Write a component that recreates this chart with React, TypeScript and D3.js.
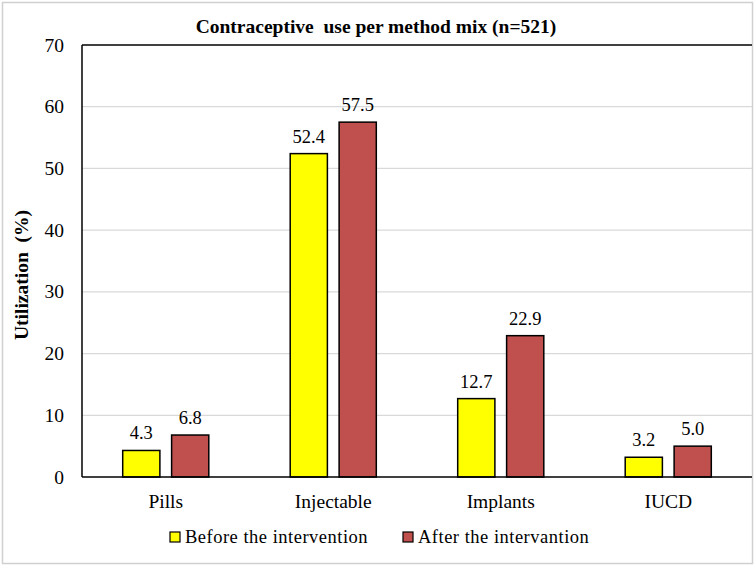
import React from "react";
import * as d3 from "d3";

const categories = ["Pills", "Injectable", "Implants", "IUCD"];
const seriesNames = ["Before the intervention", "After the intervantion"];
const beforeValues = [4.3, 52.4, 12.7, 3.2];
const afterValues = [6.8, 57.5, 22.9, 5.0];
const yTicks = [0, 10, 20, 30, 40, 50, 60, 70];
const colors = ["#FFFF00", "#C0504D"];

const W = 756;
const H = 567;
const FONT = "Liberation Serif, Times New Roman, DejaVu Serif, serif";

export default function App() {
  const left = 82;
  const right = 752;
  const top = 45;
  const bottom = 477;

  const x = d3.scaleBand<string>().domain(categories).range([left, right]).padding(0);
  const y = d3.scaleLinear().domain([0, 70]).range([bottom, top]);
  const band = x.bandwidth();
  const barW = band * 0.222;
  const gap = band * 0.07;

  const series = [beforeValues, afterValues];

  return (
    <div style={{ position: "absolute", left: 0, top: 0 }}>
      <svg width={W} height={H} style={{ display: "block" }} fontFamily={FONT}>
        <rect x={0} y={0} width={W} height={H} fill="#fff" />
        <rect x={2.5} y={2.5} width={750} height={561} fill="none" stroke="#d0d0d0" strokeWidth={1.5} />
        <text x={376} y={33} textAnchor="middle" fontFamily={FONT} fontSize={19.5} fontWeight="bold" fill="#000" style={{ whiteSpace: "pre" }}>
          {"Contraceptive  use per method mix (n=521)"}
        </text>
        {yTicks.map((t) => (
          <g key={t}>
            {t > 0 && t < 70 && (
              <line x1={left} x2={right} y1={y(t)} y2={y(t)} stroke="#d9d9d9" strokeWidth={1.2} />
            )}
            <text x={64} y={y(t) + 6.5} textAnchor="end" fontFamily={FONT} fontSize={19.5} fill="#000">
              {t}
            </text>
          </g>
        ))}
        <line x1={left} x2={right} y1={y(70)} y2={y(70)} stroke="#000" strokeWidth={1.5} />
        {categories.map((c, i) => {
          const cx = (x(c) as number) + band / 2;
          return (
            <g key={c}>
              {series.map((vals, s) => {
                const bx = s === 0 ? cx - gap / 2 - barW : cx + gap / 2;
                const v = vals[i];
                return (
                  <g key={s}>
                    <rect
                      x={bx}
                      y={y(v)}
                      width={barW}
                      height={y(0) - y(v)}
                      fill={colors[s]}
                      stroke="#000"
                      strokeWidth={1.5}
                    />
                    <text x={bx + barW / 2} y={y(v) - 11} textAnchor="middle" fontFamily={FONT} fontSize={18.5} fill="#000">
                      {v.toFixed(1)}
                    </text>
                  </g>
                );
              })}
              <text x={cx} y={508} textAnchor="middle" fontFamily={FONT} fontSize={19.5} fill="#000">
                {c}
              </text>
            </g>
          );
        })}
        <line x1={left} x2={left} y1={top} y2={bottom} stroke="#000" strokeWidth={1.5} />
        <line x1={left} x2={right} y1={bottom} y2={bottom} stroke="#000" strokeWidth={1.5} />
        <text
          transform={`translate(28,${275}) rotate(-90)`}
          textAnchor="middle"
          fontFamily={FONT}
          fontSize={19.5}
          fontWeight="bold"
          fill="#000"
          style={{ whiteSpace: "pre" }}
        >
          {"Utilization  (%)"}
        </text>
        {seriesNames.map((n, s) => {
          const lx = s === 0 ? 170 : 403;
          return (
            <g key={n}>
              <rect x={lx} y={532} width={10} height={10} fill={colors[s]} stroke="#000" strokeWidth={1.2} />
              <text x={lx + 15} y={543} fontFamily={FONT} fontSize={18.5} fill="#000" letterSpacing={0.5}>
                {n}
              </text>
            </g>
          );
        })}
      </svg>
    </div>
  );
}
